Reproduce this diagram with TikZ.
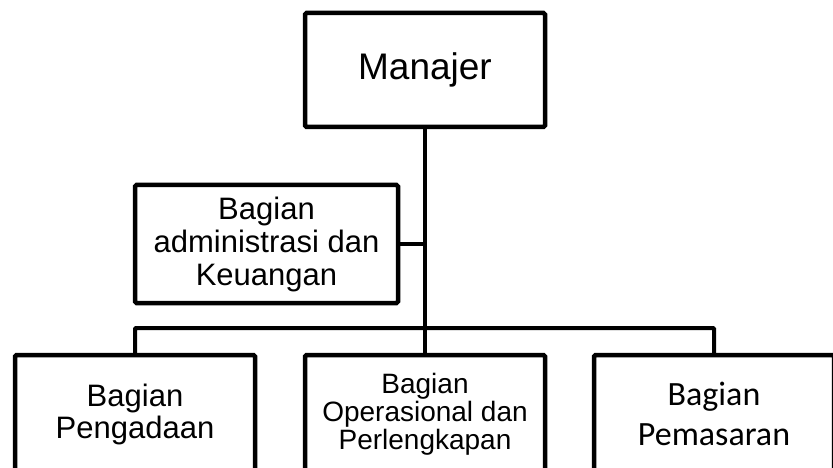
\documentclass[tikz,border=0pt]{standalone}
\usepackage{fontspec}
\setmainfont{Liberation Sans}
\newfontfamily\calibrifont{Carlito}
\usetikzlibrary{positioning}
\tikzstyle{unit}=[draw=black,line width=4.5pt,rounded corners=1.5pt,minimum width=240pt,
                minimum height=118pt,align=center,inner sep=0pt]
\tikzstyle{link}=[draw=black,line width=4pt,rounded corners=1pt]

\begin{document}
\begin{tikzpicture}[x=1pt,y=-1pt]
\useasboundingbox (0,0) rectangle (833,468);
\clip (0,0) rectangle (833,468);
\node[unit,minimum height=114pt,font={\fontsize{37}{40}\selectfont}] (manajer) at (425,70) {Manajer};
\node[unit,minimum width=263pt,font={\fontsize{31}{33}\selectfont}] (admin) at (266.5,244) {Bagian\\ administrasi dan\\ Keuangan};
\node[unit,font={\fontsize{31}{32}\selectfont}] (pengadaan) at (135,414) {Bagian\\ Pengadaan};
\node[unit,font={\fontsize{28}{28}\selectfont}] (operasional) at (425,414) {Bagian\\ Operasional dan\\ Perlengkapan};
\node[unit,font={\calibrifont\fontsize{34}{40}\selectfont}] (pemasaran) at (714,414) {Bagian\\ Pemasaran};
\coordinate (bus) at (425,328);
\draw[link] (manajer.south) -- (operasional.north);
\draw[link] (admin.east) -- (admin.east -| manajer.south);
\draw[link] (pengadaan.north) -- (pengadaan.north |- bus) -- (pemasaran.north |- bus) -- (pemasaran.north);
\end{tikzpicture}
\end{document}
